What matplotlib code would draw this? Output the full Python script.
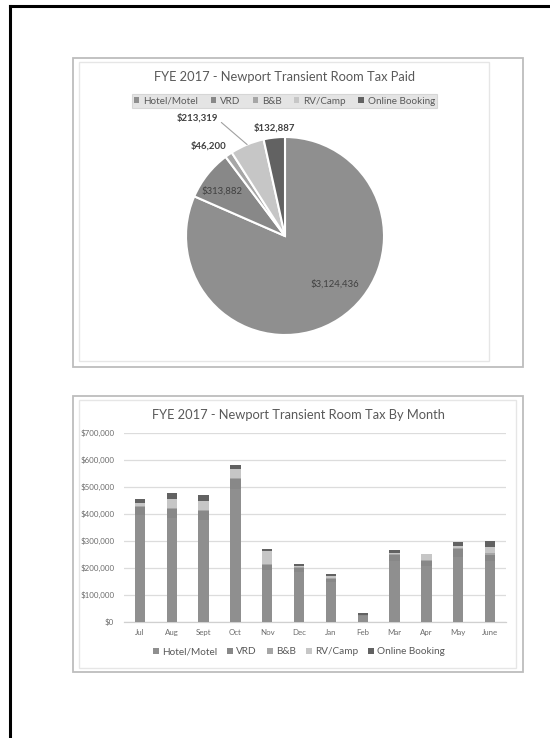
import numpy as np
import matplotlib.pyplot as plt
from matplotlib.patches import Rectangle, Patch
from matplotlib.lines import Line2D

# Annual totals by lodging type (pie)
categories = ["Hotel/Motel", "VRD", "B&B", "RV/Camp", "Online Booking"]
annual_tax = [3124436, 313882, 46200, 213319, 132887]
annual_labels = ["$3,124,436", "$313,882", "$46,200", "$213,319", "$132,887"]

# Monthly tax by lodging type (stacked bars)
months = ["Jul", "Aug", "Sept", "Oct", "Nov", "Dec", "Jan", "Feb", "Mar", "Apr", "May", "June"]
hotel = [395000, 385000, 378000, 490000, 190000, 185000, 148000, 20000, 225000, 205000, 240000, 225000]
vrd = [30000, 33000, 32000, 40000, 20000, 14000, 12000, 4000, 22000, 20000, 28000, 22000]
bnb = [3000, 3000, 3000, 4000, 5000, 3000, 3000, 1000, 3000, 5000, 6000, 6000]
rv_camp = [12000, 33000, 35000, 31000, 46000, 5000, 7000, 1000, 6000, 19000, 6000, 25000]
online = [15000, 22000, 23000, 15000, 8000, 8000, 8000, 6000, 8000, 3000, 16000, 21000]
y_ticks = [0, 100000, 200000, 300000, 400000, 500000, 600000, 700000]

colors = ["#8f8f8f", "#888888", "#a6a6a6", "#c6c6c6", "#626262"]
text_gray = "#595959"
plt.rcParams["font.family"] = ["Lato", "DejaVu Sans"]

W, H = 550, 738
fig = plt.figure(figsize=(5.5, 7.38), dpi=100)


def px_rect(x0, y0, x1, y1, **kw):
    # rectangle given in pixel coords (origin top-left)
    fig.patches.append(Rectangle((x0 / W, 1 - y1 / H), (x1 - x0) / W, (y1 - y0) / H,
                                 transform=fig.transFigure, fill=False, **kw))


# page frame (only top and left edges visible)
fig.lines.append(Line2D([10 / W, 1], [1 - 6 / H, 1 - 6 / H], transform=fig.transFigure, color="black", lw=2.2))
fig.lines.append(Line2D([10 / W, 10 / W], [0, 1 - 6 / H], transform=fig.transFigure, color="black", lw=2.2))

# chart panels
px_rect(73, 58, 523, 367, edgecolor="#bdbdbd", lw=1.3)
px_rect(79, 62, 489, 361, edgecolor="#e6e6e6", lw=1.0)
px_rect(73, 396, 523, 672, edgecolor="#bdbdbd", lw=1.3)
px_rect(79, 400, 516, 668, edgecolor="#e6e6e6", lw=1.0)

# ---- pie chart ----
cx, cy, r = 285, 236, 99
ax_pie = fig.add_axes([(cx - r) / W, 1 - (cy + r) / H, 2 * r / W, 2 * r / H])
wedges, _ = ax_pie.pie(annual_tax, colors=colors, startangle=90, counterclock=False,
                       wedgeprops=dict(edgecolor="white", linewidth=1.5))
ax_pie.set_xlim(-1, 1)
ax_pie.set_ylim(-1, 1)
ax_pie.axis("off")

# label placement (axes data units, radius = 1)
label_pos = [(0.50, -0.485), (-0.64, 0.455), (-0.77, 0.91), (-0.88, 1.19), (-0.11, 1.09)]
label_bold = [False, False, True, True, True]
for i, (w, lab) in enumerate(zip(wedges, annual_labels)):
    weight = "bold" if label_bold[i] else "normal"
    if categories[i] == "RV/Camp":
        mid = np.deg2rad((w.theta1 + w.theta2) / 2)
        ax_pie.annotate(lab, xy=(np.cos(mid), np.sin(mid)), xytext=label_pos[i],
                        ha="center", va="center", fontsize=6.9, fontweight=weight, color="#404040",
                        arrowprops=dict(arrowstyle="-", color="#a0a0a0", lw=0.8,
                                        shrinkA=0, shrinkB=0, relpos=(1.0, 0.3)))
    else:
        ax_pie.text(*label_pos[i], lab, ha="center", va="center", fontsize=6.9,
                    fontweight=weight, color="#404040")

fig.text(284 / W, 1 - 77 / H, "FYE 2017 - Newport Transient Room Tax Paid",
         ha="center", va="center", fontsize=9.3, color=text_gray)

pie_handles = [Patch(facecolor=c, edgecolor="none") for c in colors]
leg1 = fig.legend(pie_handles, categories, loc="center", bbox_to_anchor=(284.5 / W, 1 - 101 / H),
                  ncol=5, fontsize=7.1, frameon=True, fancybox=False, handlelength=0.55,
                  handleheight=0.55, handletextpad=0.4, columnspacing=1.25, borderpad=0.25,
                  labelcolor=text_gray)
leg1.get_frame().set_facecolor("#dedede")
leg1.get_frame().set_edgecolor("#d0d0d0")
leg1.get_frame().set_linewidth(0.8)

# ---- stacked bar chart ----
ax = fig.add_axes([124 / W, 1 - 621.7 / H, (506 - 124) / W, (621.7 - 432.7) / H])
x = range(len(months))
series = [hotel, vrd, bnb, rv_camp, online]
bottom = [0] * len(months)
for name, vals, c in zip(categories, series, colors):
    ax.bar(x, vals, width=0.32, bottom=bottom, color=c, label=name, zorder=3)
    bottom = [b + v for b, v in zip(bottom, vals)]

ax.set_ylim(0, 700000)
ax.set_xlim(-0.5, len(months) - 0.5)
ax.set_yticks(y_ticks)
ax.set_yticklabels([f"${v:,.0f}" for v in y_ticks])
ax.set_xticks(list(x))
ax.set_xticklabels(months)
ax.tick_params(axis="both", length=0, labelsize=5.7, labelcolor="#6b6b6b")
ax.tick_params(axis="y", pad=7)
ax.tick_params(axis="x", pad=5)
ax.grid(axis="y", color="#dcdcdc", lw=0.9, zorder=0)
for s in ["top", "right", "left"]:
    ax.spines[s].set_visible(False)
ax.spines["bottom"].set_color("#d0d0d0")
ax.spines["bottom"].set_linewidth(0.9)

fig.text(298 / W, 1 - 415 / H, "FYE 2017 - Newport Transient Room Tax By Month",
         ha="center", va="center", fontsize=9.3, color=text_gray)

leg2 = fig.legend(pie_handles, categories, loc="center", bbox_to_anchor=(299 / W, 1 - 652 / H),
                  ncol=5, fontsize=7.2, frameon=False, handlelength=0.6, handleheight=0.6,
                  handletextpad=0.3, columnspacing=1.0, labelcolor=text_gray)

fig.savefig("out.png", dpi=100, facecolor="white")
